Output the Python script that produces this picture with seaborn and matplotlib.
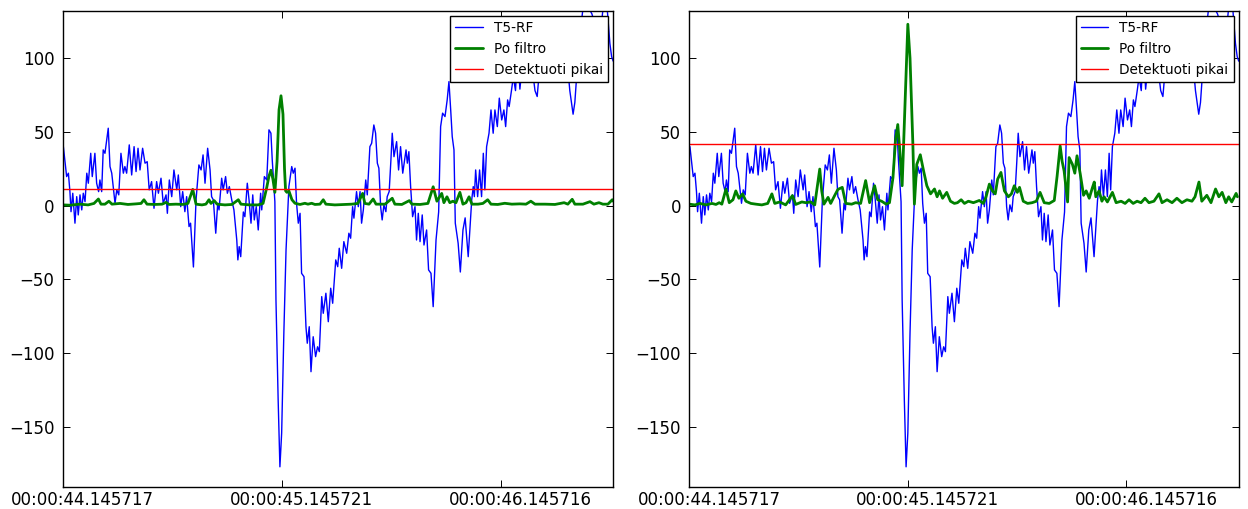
import matplotlib
matplotlib.use("Agg")
import matplotlib.pyplot as plt
import matplotlib.transforms as mtransforms
import seaborn as sns
import numpy as np
import pandas as pd

# ---------------- data ----------------
# time in seconds after 00:00:44.145717
raw_t = [0.003, 0.018, 0.026, 0.033, 0.038, 0.046, 0.056, 0.064, 0.071, 0.079,
         0.087, 0.094, 0.102, 0.110, 0.117, 0.128, 0.135, 0.147, 0.155, 0.164,
         0.170, 0.178, 0.185, 0.193, 0.208, 0.216, 0.224, 0.239, 0.247, 0.256,
         0.266, 0.277, 0.284, 0.292, 0.304, 0.315, 0.326, 0.335, 0.344, 0.353,
         0.365, 0.376, 0.386, 0.395, 0.406, 0.417, 0.429, 0.437, 0.449, 0.459,
         0.472, 0.478, 0.487, 0.498, 0.508, 0.521, 0.528, 0.539, 0.548, 0.558,
         0.566, 0.577, 0.584, 0.597, 0.609, 0.622, 0.632, 0.641, 0.650, 0.662,
         0.673, 0.680, 0.688, 0.699, 0.708, 0.714, 0.726, 0.733, 0.744, 0.752,
         0.761, 0.772, 0.782, 0.795, 0.800, 0.806, 0.813, 0.825, 0.832, 0.843,
         0.851, 0.860, 0.868, 0.875, 0.884, 0.893, 0.904, 0.909, 0.921, 0.932,
         0.942, 0.951, 0.957, 0.969, 0.974, 0.984, 0.992, 1.000, 1.010, 1.020,
         1.026, 1.033, 1.046, 1.053, 1.061, 1.068, 1.076, 1.084, 1.091, 1.102,
         1.111, 1.117, 1.126, 1.134, 1.144, 1.155, 1.164, 1.172, 1.183, 1.190,
         1.202, 1.213, 1.224, 1.233, 1.247, 1.256, 1.263, 1.274, 1.284, 1.297,
         1.307, 1.315, 1.324, 1.330, 1.342, 1.350, 1.358, 1.365, 1.373, 1.384,
         1.391, 1.403, 1.411, 1.421, 1.429, 1.437, 1.444, 1.452, 1.459, 1.467,
         1.476, 1.482, 1.491, 1.499, 1.505, 1.513, 1.525, 1.534, 1.543, 1.553,
         1.568, 1.574, 1.581, 1.589, 1.598, 1.609, 1.616, 1.624, 1.632, 1.642,
         1.650, 1.662, 1.671, 1.682, 1.692, 1.705, 1.717, 1.726, 1.735, 1.746,
         1.756, 1.764, 1.772, 1.779, 1.787, 1.793, 1.806, 1.816, 1.828, 1.838,
         1.852, 1.868, 1.875, 1.880, 1.886, 1.895, 1.904, 1.913, 1.921, 1.928,
         1.936, 1.947, 1.956, 1.966, 1.974, 1.985, 1.994, 2.005, 2.015, 2.023,
         2.032, 2.039, 2.050, 2.058, 2.068, 2.074, 2.083, 2.088, 2.102, 2.115,
         2.129, 2.143, 2.157, 2.167, 2.179, 2.197, 2.216, 2.234, 2.253, 2.271,
         2.289, 2.303, 2.316, 2.331, 2.339, 2.353, 2.367, 2.381, 2.399, 2.417,
         2.436, 2.449, 2.461, 2.472, 2.486, 2.499, 2.507, 2.514]
raw_v = [40.0, 19.7, 22.0, 9.5, -4.1, 8.4, -11.9, 6.1, -6.3, 7.3,
         -2.9, 8.4, 2.7, 22.0, 15.2, 35.5, 19.7, 35.5, 15.2, 9.5,
         17.4, 9.5, 37.8, 35.5, 52.5, 26.5, 22.0, 1.6, 10.7, 7.3,
         35.5, 22.0, 26.5, 22.0, 41.2, 20.8, 40.0, 23.1, 38.9, 24.2,
         38.9, 28.8, 29.8, 10.7, 16.3, -1.8, 16.3, 8.4, 18.6, 1.6,
         7.3, -5.2, 17.4, 6.1, 24.2, 10.7, 20.8, -0.7, 9.5, -4.1,
         6.1, -14.2, -11.9, -41.6, 3.9, 27.6, 24.2, 34.4, 15.2, 38.9,
         24.2, 6.1, 3.9, -18.7, 1.6, -2.9, 18.6, 10.7, 19.7, 8.4,
         12.9, 3.9, -2.9, -23.3, -36.8, -27.8, -34.6, -4.3, -7.5, 15.2,
         3.9, -11.9, 7.3, -9.7, -0.7, -16.5, 8.4, -2.9, 19.7, 17.4,
         51.4, 49.1, 31.0, 2.7, -64.0, -131.8, -177.1, -154.2, -86.4, -30.1,
         -9.7, 12.9, 26.5, 22.0, 25.4, 1.6, -11.9, -5.2, -45.9, -48.2,
         -82.1, -93.3, -82.1, -112.6, -88.9, -102.4, -95.7, -99.0, -61.7, -73.0,
         -59.4, -78.7, -56.0, -66.2, -36.8, -41.4, -28.9, -42.5, -24.4, -32.3,
         -18.7, -22.1, -0.7, -8.5, 9.5, -0.7, 9.5, -11.9, -2.9, 17.4,
         7.3, 40.0, 42.3, 54.7, 49.1, 28.8, 25.4, -0.7, -9.7, 0.5,
         -4.1, 6.1, 9.5, 31.0, 49.1, 33.2, 43.4, 24.2, 40.0, 22.0,
         37.8, 28.8, 36.6, 12.9, -7.5, -0.7, -23.3, -5.2, -24.4, -6.3,
         -26.7, -16.5, -43.6, -45.9, -68.5, -23.3, -4.3, 53.6, 62.7, 60.4,
         71.7, 84.1, 64.9, 46.8, 37.8, -11.9, -25.5, -45.0, -16.5, -8.3,
         -34.6, 3.9, 12.9, 6.1, 24.2, 6.1, 24.2, 6.1, 35.5, 10.7,
         40.0, 49.1, 64.9, 49.1, 64.9, 53.6, 72.9, 58.1, 64.9, 53.6,
         71.7, 67.2, 78.5, 87.5, 78.0, 95.0, 92.0, 79.0, 100.0, 90.0,
         105.0, 95.0, 78.0, 74.0, 95.0, 86.0, 105.0, 96.0, 112.0, 100.0,
         113.0, 100.0, 78.0, 62.0, 70.0, 100.0, 122.0, 140.0, 135.0, 130.0,
         120.0, 118.0, 124.0, 140.0, 135.0, 110.0, 101.0, 98.0]

filt1_t = [0.000, 0.033, 0.079, 0.116, 0.143, 0.163, 0.175, 0.193, 0.211, 0.225,
           0.262, 0.298, 0.335, 0.358, 0.371, 0.385, 0.421, 0.454, 0.472, 0.486,
           0.517, 0.549, 0.572, 0.594, 0.609, 0.636, 0.654, 0.668, 0.677, 0.692,
           0.705, 0.741, 0.773, 0.802, 0.814, 0.855, 0.892, 0.915, 0.932, 0.942,
           0.951, 0.960, 0.969, 0.979, 0.988, 0.997, 1.006, 1.013, 1.018, 1.024,
           1.033, 1.047, 1.061, 1.084, 1.106, 1.120, 1.137, 1.152, 1.175, 1.190,
           1.202, 1.243, 1.289, 1.321, 1.348, 1.370, 1.380, 1.399, 1.418, 1.431,
           1.472, 1.505, 1.517, 1.549, 1.583, 1.595, 1.632, 1.668, 1.692, 1.709,
           1.731, 1.741, 1.755, 1.768, 1.782, 1.796, 1.814, 1.828, 1.842, 1.856,
           1.869, 1.897, 1.919, 1.941, 1.956, 1.987, 2.019, 2.051, 2.088, 2.116,
           2.138, 2.157, 2.203, 2.248, 2.290, 2.307, 2.327, 2.339, 2.376, 2.408,
           2.426, 2.449, 2.467, 2.490, 2.510, 2.514]
filt1_v = [0.5, 0.3, 1.0, 0.5, 1.5, 4.5, 1.0, 1.0, 3.0, 1.0,
           1.5, 0.8, 1.2, 1.5, 4.0, 1.0, 0.8, 1.0, 2.2, 0.8,
           1.0, 0.8, 1.5, 11.0, 1.0, 0.5, 1.0, 4.0, 1.5, 3.4,
           1.0, 0.5, 0.8, 4.0, 1.0, 0.5, 0.5, 1.5, 12.4, 20.0,
           24.0, 18.0, 9.0, 30.0, 65.0, 74.5, 62.0, 25.0, 10.0, 9.0,
           10.0, 4.0, 1.6, 0.8, 1.6, 1.0, 1.6, 0.8, 1.0, 4.0,
           1.0, 0.5, 0.8, 1.0, 1.5, 8.3, 1.5, 1.0, 4.5, 1.0,
           1.0, 5.0, 1.0, 0.8, 3.4, 1.0, 0.8, 1.5, 12.8, 3.0,
           8.3, 2.0, 6.0, 2.0, 3.0, 2.0, 9.0, 1.0, 2.0, 6.0,
           1.0, 1.0, 1.5, 4.0, 1.0, 0.8, 1.6, 1.0, 1.2, 1.0,
           3.0, 1.0, 1.0, 0.8, 2.0, 1.0, 4.3, 1.0, 1.0, 2.7,
           1.0, 2.0, 1.0, 1.0, 4.0, 3.0]

filt2_t = [0.000, 0.026, 0.049, 0.076, 0.104, 0.122, 0.137, 0.149, 0.168, 0.183,
           0.200, 0.213, 0.227, 0.244, 0.259, 0.282, 0.305, 0.332, 0.359, 0.378,
           0.391, 0.414, 0.441, 0.472, 0.487, 0.515, 0.533, 0.556, 0.574, 0.588,
           0.597, 0.606, 0.616, 0.635, 0.647, 0.665, 0.680, 0.700, 0.716, 0.743,
           0.761, 0.784, 0.807, 0.825, 0.848, 0.862, 0.880, 0.901, 0.916, 0.932,
           0.944, 0.954, 0.962, 0.974, 0.985, 1.000, 1.010, 1.023, 1.030, 1.041,
           1.057, 1.072, 1.087, 1.104, 1.122, 1.134, 1.145, 1.159, 1.178, 1.195,
           1.213, 1.227, 1.244, 1.259, 1.277, 1.300, 1.327, 1.345, 1.358, 1.373,
           1.387, 1.400, 1.411, 1.426, 1.442, 1.460, 1.474, 1.487, 1.501, 1.511,
           1.528, 1.548, 1.569, 1.588, 1.605, 1.624, 1.647, 1.670, 1.683, 1.697,
           1.706, 1.715, 1.731, 1.738, 1.753, 1.764, 1.774, 1.789, 1.804, 1.816,
           1.830, 1.845, 1.853, 1.860, 1.875, 1.888, 1.898, 1.913, 1.936, 1.953,
           1.976, 1.994, 2.012, 2.031, 2.049, 2.067, 2.085, 2.103, 2.126, 2.149,
           2.163, 2.186, 2.209, 2.231, 2.254, 2.277, 2.300, 2.314, 2.332, 2.345,
           2.368, 2.387, 2.408, 2.423, 2.438, 2.455, 2.468, 2.482, 2.502, 2.508]
filt2_v = [1.0, 0.5, 1.5, 0.5, 1.5, 0.8, 2.0, 1.0, 11.3, 2.0,
           4.0, 10.0, 5.0, 8.0, 3.0, 1.5, 1.0, 0.5, 1.5, 8.0,
           1.5, 2.5, 0.5, 6.8, 0.8, 2.5, 2.0, 2.5, 0.5, 15.0,
           24.8, 10.0, 1.0, 5.6, 1.5, 6.8, 11.0, 12.4, 1.5, 1.0,
           2.0, 1.5, 17.0, 2.0, 13.5, 4.0, 3.0, 1.0, 2.0, 19.0,
           45.0, 55.0, 40.0, 13.5, 60.0, 123.0, 100.0, 42.0, 1.0, 28.0,
           34.5, 23.6, 13.5, 8.0, 11.3, 6.0, 10.0, 5.0, 9.0, 3.0,
           1.5, 2.0, 4.0, 1.5, 3.0, 2.0, 3.5, 1.5, 6.0, 14.6,
           10.0, 8.0, 18.0, 22.5, 10.0, 6.0, 8.0, 13.5, 9.0, 12.4,
           3.0, 1.5, 2.0, 3.0, 9.0, 2.0, 1.5, 3.5, 20.0, 40.5,
           30.0, 23.6, 2.5, 32.6, 28.0, 22.0, 33.8, 21.4, 7.0, 10.0,
           5.0, 12.4, 16.0, 6.0, 10.0, 3.0, 6.0, 2.5, 9.0, 2.0,
           3.0, 1.5, 4.0, 1.5, 3.0, 2.0, 5.0, 2.0, 3.0, 8.0,
           2.0, 4.0, 2.0, 5.0, 2.0, 4.0, 3.0, 6.0, 16.0, 3.0,
           7.0, 2.0, 11.3, 6.0, 9.0, 2.0, 6.0, 2.5, 8.3, 6.0]

thresholds = [11.0, 42.0]
tick_pos = [0.0, 1.000004, 1.999999]
tick_labels = ["00:00:44.145717", "00:00:45.145721", "00:00:46.145716"]
y_ticks = [-150, -100, -50, 0, 50, 100]

# ---------------- style ----------------
sns.set_style("white", {
    "axes.edgecolor": "black",
    "xtick.direction": "in",
    "ytick.direction": "in",
    "text.color": "black",
    "xtick.color": "black",
    "ytick.color": "black",
})
plt.rcParams.update({
    "font.family": ["DejaVu Sans"],
    "axes.linewidth": 1.0,
    "xtick.major.size": 5,
    "ytick.major.size": 5,
    "xtick.major.width": 0.7,
    "ytick.major.width": 0.7,
    "xtick.top": True,
    "ytick.right": True,
    "xtick.bottom": True,
    "ytick.left": True,
    "xtick.major.pad": 2.5,
    "ytick.major.pad": 6,
})

fig = plt.figure(figsize=(12.48, 5.09), dpi=100)
ax1 = fig.add_axes([0.05024, 0.04263, 0.4409, 0.9358])
ax2 = fig.add_axes([0.5523, 0.04263, 0.4401, 0.9358])

raw_df = pd.DataFrame({"t": raw_t, "v": raw_v})
filts = [pd.DataFrame({"t": filt1_t, "v": filt1_v}),
         pd.DataFrame({"t": filt2_t, "v": filt2_v})]

label_shift = mtransforms.ScaledTranslation(0.20, 0, fig.dpi_scale_trans)

for ax, fdf, thr in zip([ax1, ax2], filts, thresholds):
    sns.lineplot(data=raw_df, x="t", y="v", ax=ax, color="#0000ff",
                 linewidth=1.0, label="T5-RF", estimator=None, sort=False)
    sns.lineplot(data=fdf, x="t", y="v", ax=ax, color="#008000",
                 linewidth=2.0, label="Po filtro", estimator=None, sort=False)
    ax.axhline(thr, color="#ff0000", linewidth=1.0, label="Detektuoti pikai")
    ax.set_xlim(0, 2.513)
    ax.set_ylim(-191, 132)
    ax.set_xticks(tick_pos)
    ax.set_xticklabels(tick_labels)
    ax.set_yticks(y_ticks)
    ax.tick_params(axis="both", labelsize=12, colors="black",
                   top=True, right=True, direction="in")
    ax.tick_params(axis="x", pad=2.5)
    for lbl in ax.get_xticklabels():
        lbl.set_transform(lbl.get_transform() + label_shift)
    ax.set_xlabel("")
    ax.set_ylabel("")
    for s in ax.spines.values():
        s.set_visible(True)
        s.set_color("black")
        s.set_linewidth(1.0)
    leg = ax.legend(loc="upper right", fontsize=9.8, frameon=True,
                    fancybox=False, framealpha=1.0, edgecolor="black",
                    borderpad=0.4, labelspacing=0.5, handlelength=2.0,
                    handletextpad=0.8, borderaxespad=0.35, labelcolor="black")
    leg.get_frame().set_linewidth(1.0)

fig.savefig("out.png", dpi=100)
